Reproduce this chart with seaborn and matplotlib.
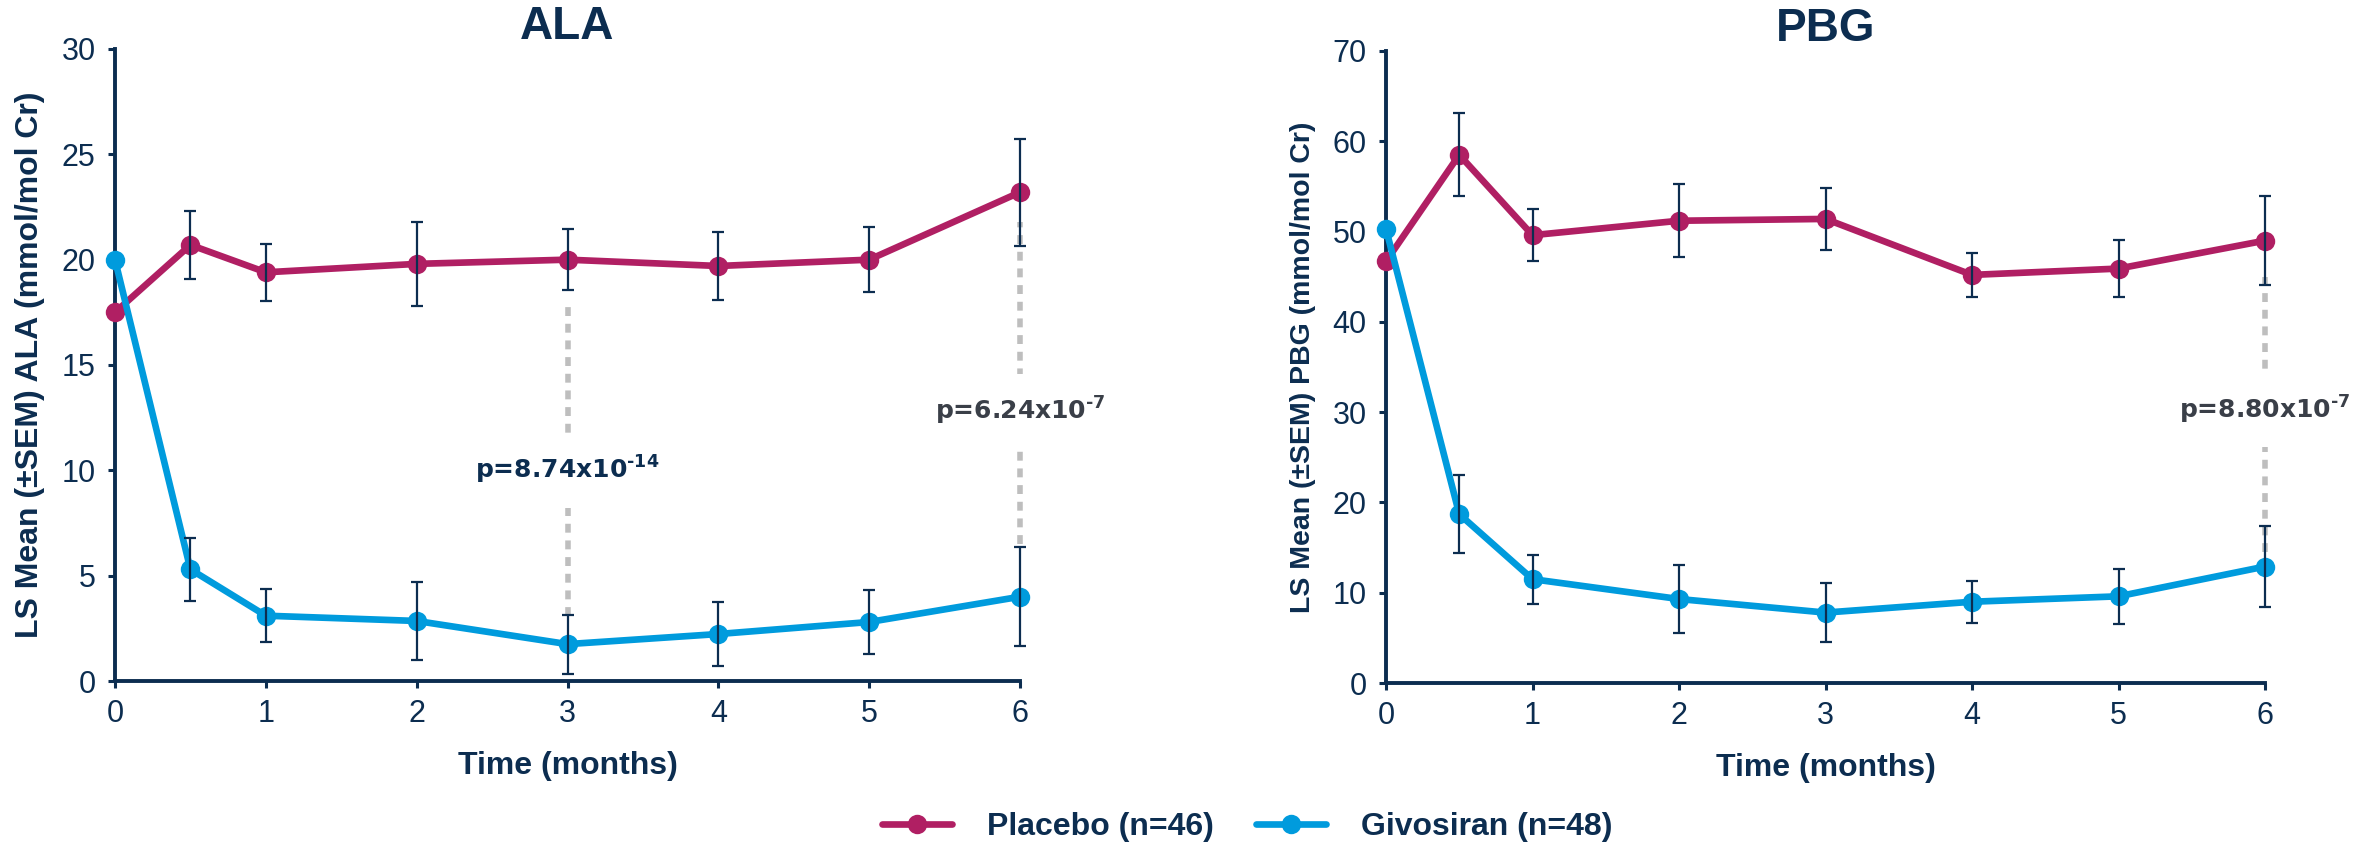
import matplotlib
matplotlib.use("Agg")
import numpy as np
import pandas as pd
import seaborn as sns
import matplotlib.pyplot as plt

# values
months = [0, 0.5, 1, 2, 3, 4, 5, 6]
groups = ["Placebo (n=46)", "Givosiran (n=48)"]

ala_placebo = [17.5, 20.7, 19.4, 19.8, 20.0, 19.7, 20.0, 23.2]
ala_placebo_sem = [0, 1.6, 1.35, 2.0, 1.45, 1.6, 1.55, 2.55]
ala_givosiran = [20.0, 5.3, 3.1, 2.85, 1.75, 2.23, 2.8, 4.0]
ala_givosiran_sem = [0, 1.5, 1.25, 1.85, 1.4, 1.5, 1.5, 2.35]

pbg_placebo = [46.7, 58.5, 49.6, 51.2, 51.4, 45.2, 45.9, 49.0]
pbg_placebo_sem = [0, 4.6, 2.85, 4.05, 3.4, 2.45, 3.15, 4.95]
pbg_givosiran = [50.3, 18.7, 11.5, 9.3, 7.8, 9.0, 9.6, 12.9]
pbg_givosiran_sem = [0, 4.3, 2.7, 3.75, 3.25, 2.35, 3.05, 4.45]

# p-value annotations: month, label, label y, dashed line top / bottom
ala_p_month = [3, 6]
ala_p_text = ["p=8.74x10$^{\u201014}$", "p=6.24x10$^{\u20107}$"]
ala_p_y = [10.0, 12.8]
ala_p_top = [17.9, 21.8]
ala_p_bottom = [3.1, 6.5]

pbg_p_month = [6]
pbg_p_text = ["p=8.80x10$^{\u20107}$"]
pbg_p_y = [30.3]
pbg_p_top = [45.0]
pbg_p_bottom = [14.5]

navy = "#0C2D50"
colors = {groups[0]: "#B01F63", groups[1]: "#009BDD"}

sns.set_style("ticks")
plt.rcParams["font.family"] = ["Liberation Sans", "DejaVu Sans"]
plt.rcParams["mathtext.default"] = "regular"

fig = plt.figure(figsize=(23.67, 8.46), dpi=100)
W, H = 2367, 846
tick_font = ["Liberation Sans Narrow", "Liberation Sans"]


def panel(rect, title, ylab, ylab_size, ymax, ystep, plac, plac_sem, giv, giv_sem,
          p_month, p_text, p_y, p_top, p_bottom, p_colors):
    l, r, t, b = rect
    ax = fig.add_axes([l / W, 1 - b / H, (r - l) / W, (b - t) / H])
    df = pd.DataFrame({
        "month": months * 2,
        "value": plac + giv,
        "group": [groups[0]] * len(months) + [groups[1]] * len(months),
    })
    # dashed significance lines
    for m, y0, y1 in zip(p_month, p_bottom, p_top):
        ax.plot([m, m], [y0, y1], color="#BEBEBE", lw=4, ls=(0, (1.6, 1.4)),
                solid_capstyle="butt", zorder=1, clip_on=False)
    sns.lineplot(data=df, x="month", y="value", hue="group", hue_order=groups,
                 palette=colors, marker="o", markersize=14, markeredgewidth=0,
                 linewidth=4.8, ax=ax, legend=False, zorder=3)
    for line in ax.lines:
        line.set_clip_on(False)
    for vals, sem in [(plac, plac_sem), (giv, giv_sem)]:
        ax.errorbar(months[1:], vals[1:], yerr=sem[1:], fmt="none", ecolor=navy,
                    elinewidth=1.6, capsize=4, capthick=1.6, zorder=4, clip_on=False)
    for m, txt, y, c in zip(p_month, p_text, p_y, p_colors):
        ax.text(m, y, txt, ha="center", va="center", fontsize=18, fontweight="bold",
                family="DejaVu Sans", color=c, zorder=5,
                bbox=dict(boxstyle="square,pad=0.85", fc="white", ec="none"))
    ax.set_xlim(0, 6)
    ax.set_ylim(0, ymax)
    ax.set_xticks(range(7))
    ax.set_yticks(np.arange(0, ymax + 1, ystep))
    ax.set_title(title, fontsize=33, fontweight="bold", color=navy, pad=3)
    ax.set_xlabel("Time (months)", fontsize=23, fontweight="bold", color=navy, labelpad=16)
    ax.set_ylabel(ylab, fontsize=ylab_size, fontweight="bold", color=navy, labelpad=12)
    sns.despine(ax=ax)
    for s in ["left", "bottom"]:
        ax.spines[s].set_linewidth(2.8)
        ax.spines[s].set_color(navy)
    ax.tick_params(axis="both", length=5, width=2.2, color=navy, labelcolor=navy)
    ax.tick_params(axis="y", pad=9)
    ax.tick_params(axis="x", pad=8)
    for lab in ax.get_xticklabels() + ax.get_yticklabels():
        lab.set_family(tick_font)
        lab.set_fontsize(22)
    return ax


panel((115, 1020, 49, 681), "ALA", "LS Mean (\u00b1SEM) ALA (mmol/mol Cr)", 23, 30, 5,
      ala_placebo, ala_placebo_sem, ala_givosiran, ala_givosiran_sem,
      ala_p_month, ala_p_text, ala_p_y, ala_p_top, ala_p_bottom, [navy, "#3A3F48"])
panel((1386, 2265, 51, 683), "PBG", "LS Mean (\u00b1SEM) PBG (mmol/mol Cr)", 20.5, 70, 10,
      pbg_placebo, pbg_placebo_sem, pbg_givosiran, pbg_givosiran_sem,
      pbg_p_month, pbg_p_text, pbg_p_y, pbg_p_top, pbg_p_bottom, ["#3A3F48"])

handles = [plt.Line2D([], [], color=colors[g], lw=4.8, marker="o", markersize=14,
                      markeredgewidth=0) for g in groups]
leg = fig.legend(handles, groups, loc="center", bbox_to_anchor=(0.527, 0.022), ncol=2,
                 frameon=False, handlelength=2.2, handletextpad=1.1, columnspacing=1.3,
                 prop={"size": 23, "weight": "bold"})
for t in leg.get_texts():
    t.set_color(navy)

fig.savefig("out.png", dpi=100)
